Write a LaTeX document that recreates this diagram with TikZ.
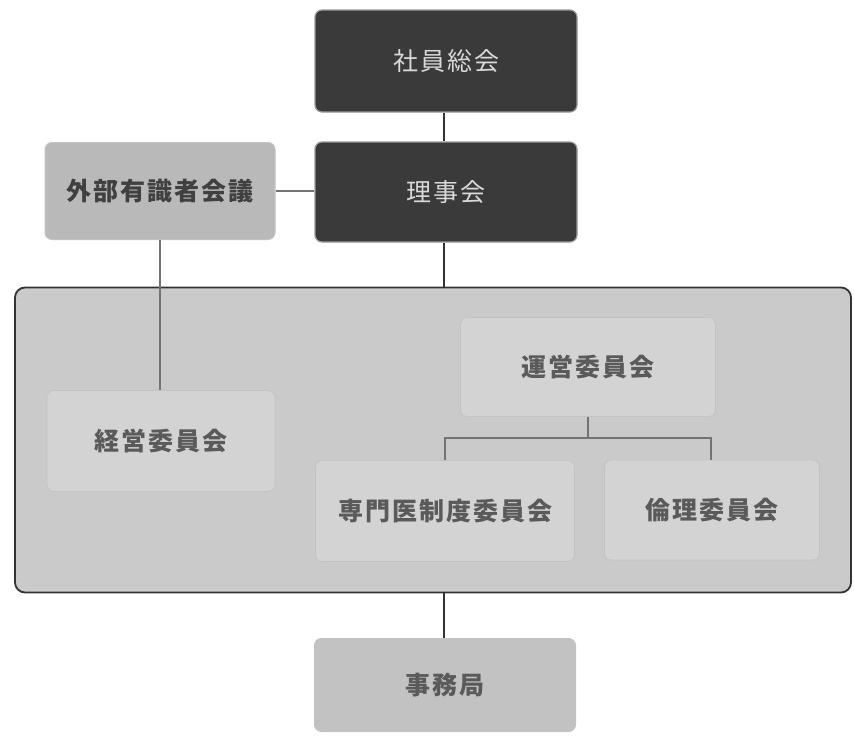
\documentclass[tikz,border=0pt]{standalone}
\usepackage{fontspec}
\newfontfamily\jpfont[LetterSpace=8]{Noto Sans CJK JP}
\usetikzlibrary{positioning}
\definecolor{darkbox}{HTML}{3A3A3A}
\definecolor{darkedge}{HTML}{9A9A9A}
\definecolor{lightbox}{HTML}{D3D3D3}
\definecolor{extbox}{HTML}{B9B9B9}
\definecolor{bigbox}{HTML}{CACACA}
\definecolor{linecol}{HTML}{333333}
\definecolor{lighttext}{HTML}{5A5A5A}
\tikzset{
  boxbase/.style={rounded corners=7pt, inner sep=0pt, font=\jpfont\bfseries\fontsize{25}{28}\selectfont},
  darkstyle/.style={boxbase, font=\jpfont\fontsize{25}{28}\selectfont, fill=darkbox, draw=darkedge, line width=1.2pt, text=white!85!black},
  extstyle/.style={boxbase, fill=extbox, draw=extbox!85!white, line width=1pt, text=black!75},
  innerstyle/.style={boxbase, fill=lightbox, draw=lightbox!92!black, line width=0.6pt, text=lighttext},
  conn/.style={draw=linecol, line width=1.6pt},
  thinconn/.style={draw=black!55, line width=1.2pt}
}
\begin{document}
\begin{tikzpicture}[x=1pt,y=-1pt]
\useasboundingbox (0,0) rectangle (854,737);
\fill[white] (0,0) rectangle (854,737);
% big container
\node[draw=black!80, line width=1.8pt, fill=bigbox, rounded corners=10pt, minimum width=836pt, minimum height=305pt, inner sep=0pt] (big) at (433,440) {};
% top boxes
\node[darkstyle, minimum width=262pt, minimum height=102pt] (soukai) at (446,61) {社員総会};
\node[darkstyle, minimum width=262pt, minimum height=100pt] (riji) at (446,192) {理事会};
\node[extstyle, minimum width=230pt, minimum height=97pt] (gaibu) at (160,191) {外部有識者会議};
% inner boxes
\node[innerstyle, minimum width=228pt, minimum height=101pt] (keiei) at (161,441) {経営委員会};
\node[innerstyle, minimum width=255pt, minimum height=99pt] (unei) at (588,367) {運営委員会};
\node[innerstyle, minimum width=259pt, minimum height=101pt] (senmon) at (445,511) {専門医制度委員会};
\node[innerstyle, minimum width=215pt, minimum height=100pt] (rinri) at (712,510) {倫理委員会};
% bottom
\node[extstyle, fill=lightbox!92!black, text=lighttext, minimum width=261pt, minimum height=93pt] (jimu) at (445,685) {事務局};
% connectors
\draw[conn] (soukai.south -| 444,0) -- (riji.north -| 444,0);
\draw[thinconn] (gaibu.east) -- (riji.west |- gaibu.east);
\draw[conn] (riji.south -| 444,0) -- (big.north -| 444,0);
\draw[thinconn] (gaibu.south) -- (keiei.north -| gaibu.south);
\coordinate (split) at (588,438);
\draw[thinconn] (unei.south) -- (split);
\draw[thinconn] (senmon.north) -- (senmon.north |- split) -- (split) -| (rinri.north -| 711,0);
\draw[conn] (big.south -| 444,0) -- (jimu.north -| 444,0);
\end{tikzpicture}
\end{document}
